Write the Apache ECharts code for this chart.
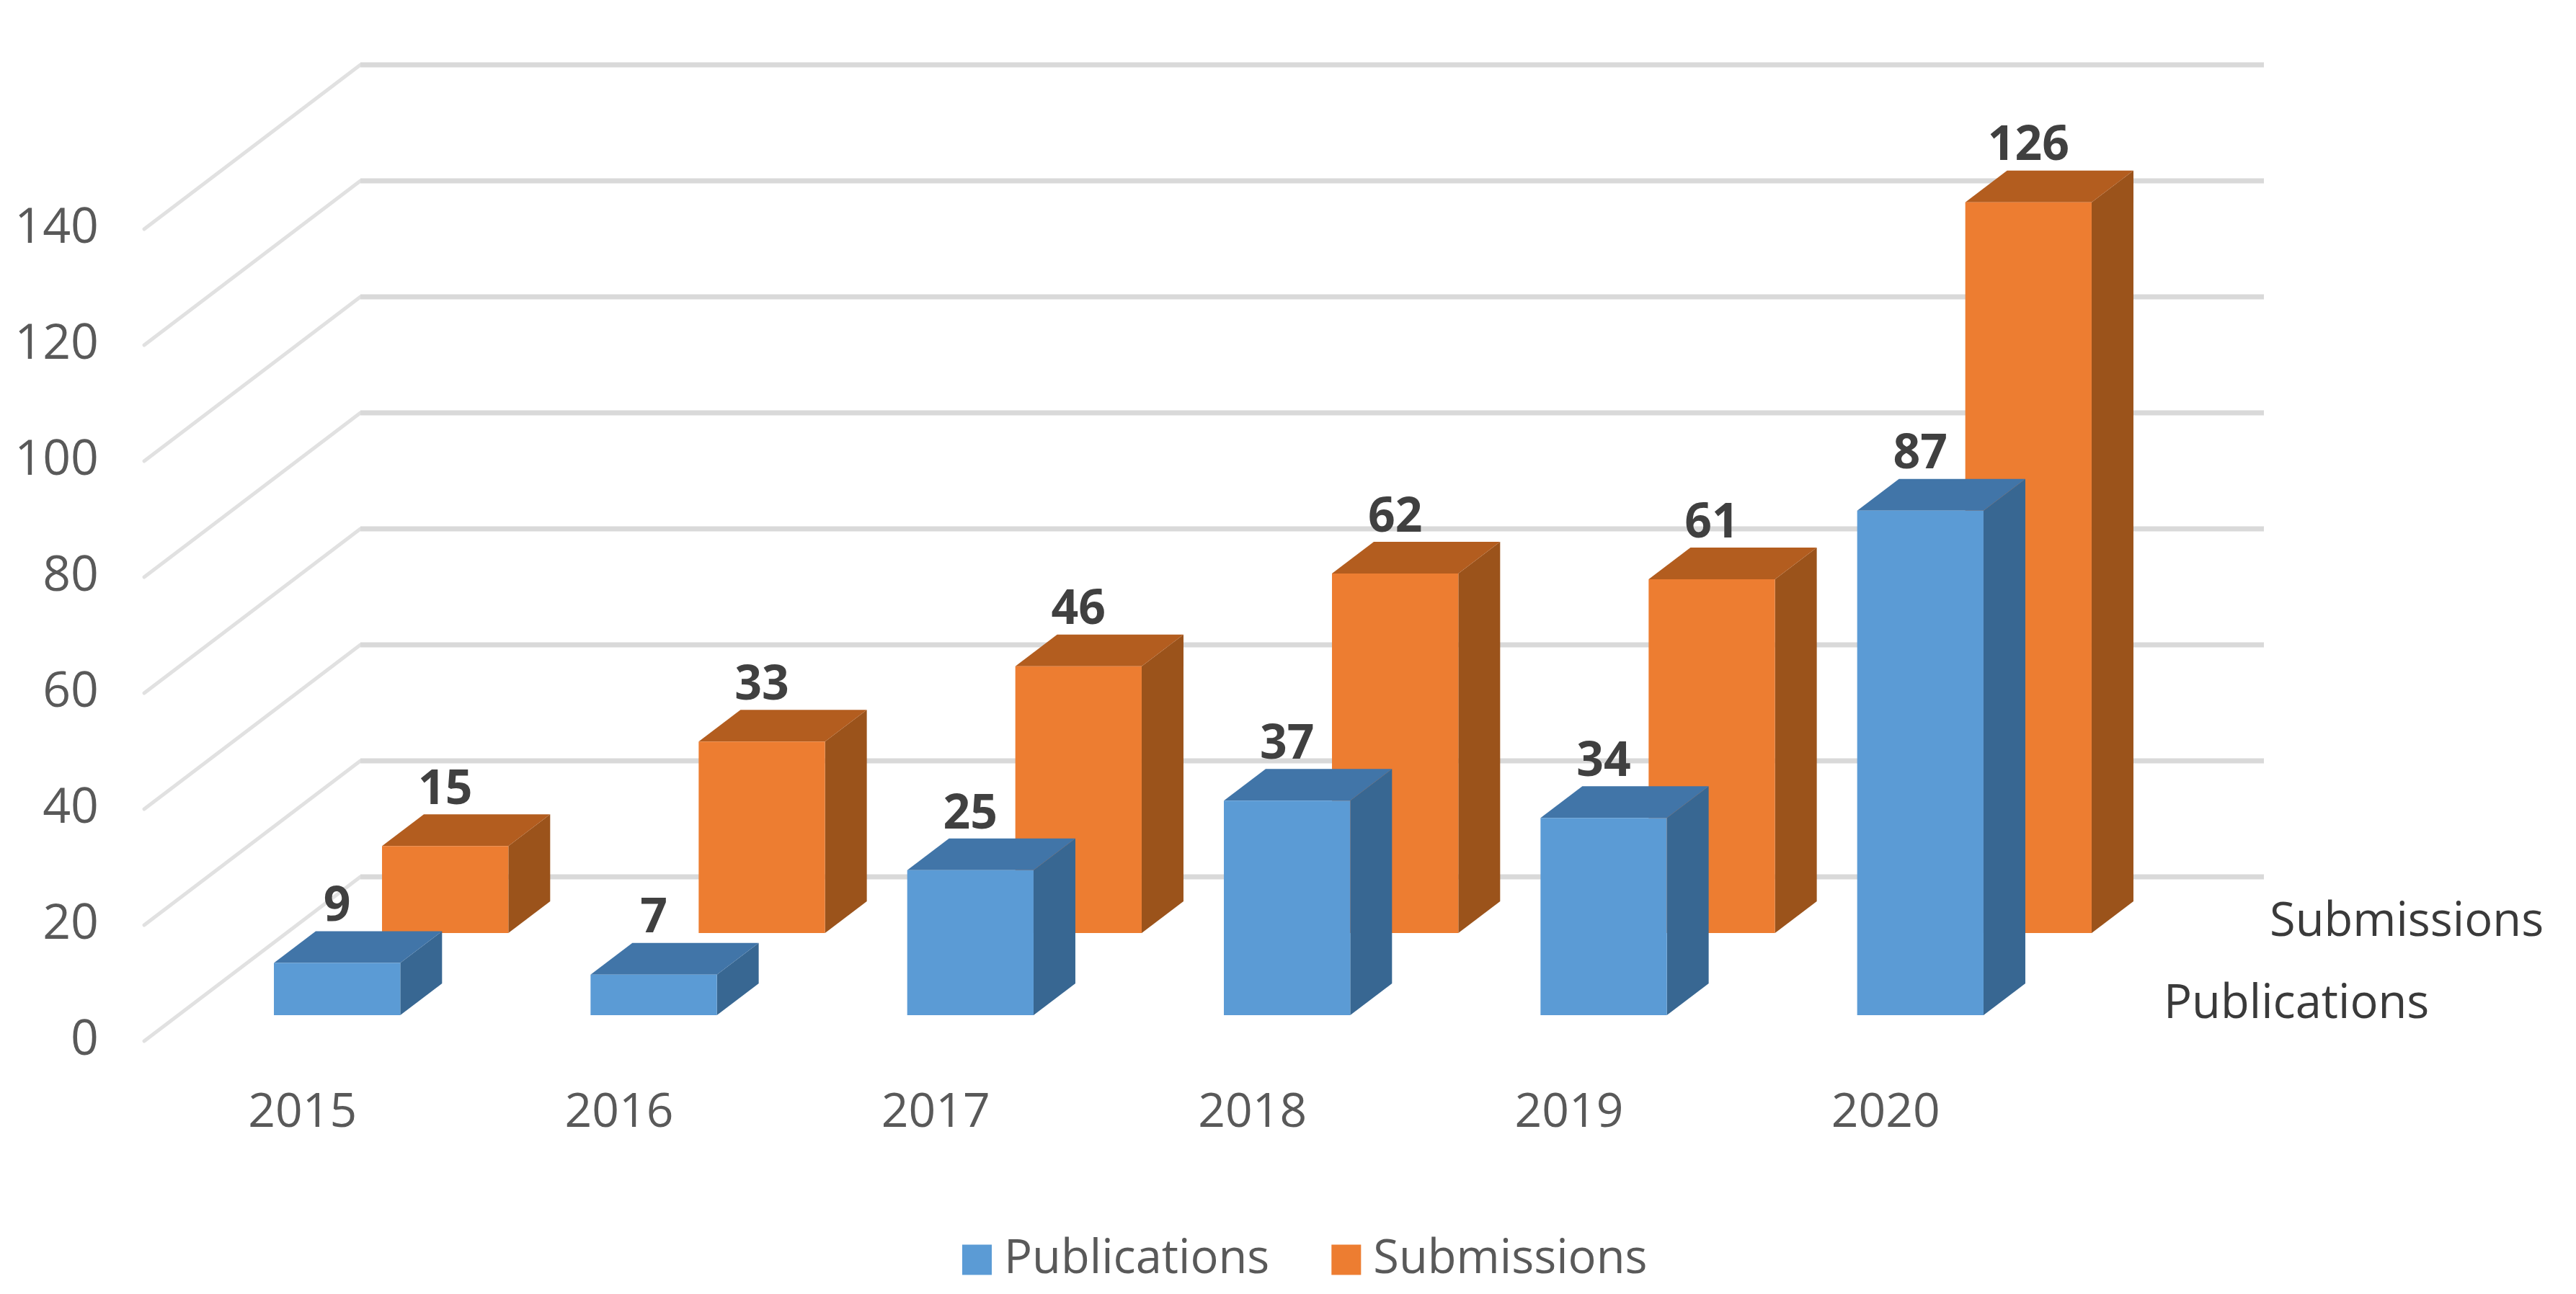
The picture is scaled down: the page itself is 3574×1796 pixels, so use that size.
<!DOCTYPE html>
<html>
<head>
<meta charset="utf-8">
<style>html,body{margin:0;padding:0;background:#fff}#c{width:3574px;height:1796px}</style>
<script src="https://cdn.jsdelivr.net/npm/echarts@6/dist/echarts.min.js"></script>
</head>
<body>
<div id="c"></div>
<script>
const categories = ['2015','2016','2017','2018','2019','2020'];
const publications = [9,7,25,37,34,87];
const submissions = [15,33,46,62,61,126];
const wallTicks = [0,20,40,60,80,100,120,140];
const seriesNames = ['Publications','Submissions'];

const FONT = '"Open Sans"';
const WALL = {dx:300, dy:228, tail:5};
const PLANES = {
  Publications:{dx:48, dy:36, front:'#5B9BD5', top:'#4175A8', side:'#386792', labelDx:118},
  Submissions:{dx:198, dy:150, front:'#ED7D31', top:'#B35D1F', side:'#9B531B', labelDx:115}
};
const BAR_RATIO = 0.399, BAR_DEPTH = {dx:58, dy:44};

function barRender(name){
  const p = PLANES[name];
  return function(params, api){
    const base = api.coord([api.value(0), 0]);
    const topP = api.coord([api.value(0), api.value(1)]);
    const w = api.size([1,0])[0] * BAR_RATIO;
    const x0 = base[0] + p.dx - w/2, x1 = x0 + w;
    const yb = base[1] - p.dy, yt = topP[1] - p.dy;
    const d = BAR_DEPTH;
    return {type:'group', children:[
      {type:'polygon', shape:{points:[[x1,yb],[x1+d.dx,yb-d.dy],[x1+d.dx,yt-d.dy],[x1,yt]]}, style:{fill:p.side}},
      {type:'polygon', shape:{points:[[x0,yt],[x1,yt],[x1+d.dx,yt-d.dy],[x0+d.dx,yt-d.dy]]}, style:{fill:p.top}},
      {type:'rect', shape:{x:x0,y:yt,width:w,height:yb-yt}, style:{fill:p.front}},
      {type:'text', style:{text:String(api.value(1)), x:(x0+x1)/2, y:yt-d.dy-33, align:'center', verticalAlign:'middle',
        fontFamily:FONT, fontWeight:'bold', fontSize:66, fill:'#404040'}}
    ]};
  };
}
function wallRender(params, api){
  const cs = params.coordSys;
  const y = api.coord([0, api.value(0)])[1];
  const xl = cs.x, xr = cs.x + cs.width;
  return {type:'group', children:[
    {type:'line', shape:{x1:xl,y1:y,x2:xl+WALL.dx,y2:y-WALL.dy}, style:{stroke:'#E1E1E1',lineWidth:5,lineCap:'round'}},
    {type:'line', shape:{x1:xl+WALL.dx,y1:y-WALL.dy,x2:xr+WALL.dx+WALL.tail,y2:y-WALL.dy}, style:{stroke:'#D9D9D9',lineWidth:7}}
  ]};
}
function depthRender(params, api){
  const cs = params.coordSys;
  const name = seriesNames[api.value(0)];
  const p = PLANES[name];
  const y = api.coord([0,0])[1];
  return {type:'text', style:{text:name, x:cs.x+cs.width+p.dx+p.labelDx, y:y-p.dy-15, align:'left', verticalAlign:'middle',
    fontFamily:FONT, fontSize:65, fill:'#3A3A3A'}};
}

const chart = echarts.init(document.getElementById('c'), null, {renderer:'canvas'});
chart.setOption({
  animation:false,
  backgroundColor:'#fff',
  grid:{left:200, top:318, width:2636, height:1127, containLabel:false},
  legend:{
    data:seriesNames, left:1330, top:1711, itemWidth:41, itemHeight:42, itemGap:86, icon:'rect',
    textStyle:{fontFamily:FONT, fontSize:65, color:'#595959', padding:[0,0,0,12]}
  },
  xAxis:{type:'category', data:categories, axisLine:{show:false}, axisTick:{show:false}, splitLine:{show:false},
    axisLabel:{margin:67, fontFamily:FONT, fontSize:66, color:'#595959'}},
  yAxis:{type:'value', min:0, max:140, interval:20, axisLine:{show:false}, axisTick:{show:false}, splitLine:{show:false},
    axisLabel:{margin:63, fontFamily:FONT, fontSize:68, color:'#595959', padding:[5,0,0,0]}},
  series:[
    {type:'custom', name:'wall', silent:true, z:1, renderItem:wallRender, data:wallTicks.map(v=>[v]), encode:{y:0}},
    {type:'custom', name:'depth', silent:true, z:1, renderItem:depthRender, data:seriesNames.map((n,i)=>[i]), encode:{x:0}},
    {type:'custom', name:'Submissions', z:2, itemStyle:{color:PLANES.Submissions.front}, renderItem:barRender('Submissions'),
      data:submissions.map((v,i)=>[i,v]), encode:{x:0,y:1}},
    {type:'custom', name:'Publications', z:3, itemStyle:{color:PLANES.Publications.front}, renderItem:barRender('Publications'),
      data:publications.map((v,i)=>[i,v]), encode:{x:0,y:1}}
  ]
});
</script>
</body>
</html>
